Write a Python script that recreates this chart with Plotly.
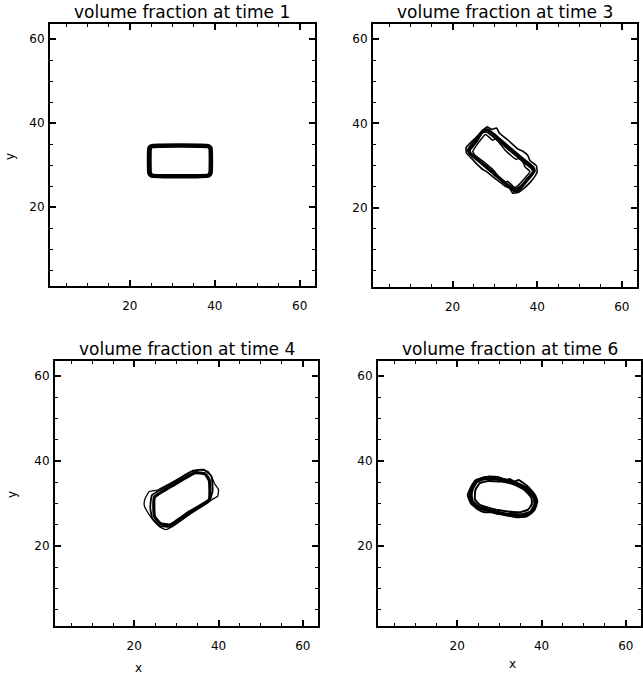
import plotly.graph_objects as go

W, H = 643, 678

# ---------------- data (contour vertices, data units) ----------------
titles = ["volume fraction at time 1", "volume fraction at time 3",
          "volume fraction at time 4", "volume fraction at time 6"]
tick_vals = [20, 40, 60]
tick_text = ["20", "40", "60"]

# time 1: rounded rectangle
t1_main_x = [25.0, 38.6, 39.1, 39.1, 38.6, 25.0, 24.5, 24.5, 25.0]
t1_main_y = [34.6, 34.6, 34.1, 28.0, 27.4, 27.4, 28.0, 34.1, 34.6]
t1_in_x = [25.3, 38.4, 38.7, 38.7, 38.4, 25.3, 25.0, 25.0, 25.3]
t1_in_y = [34.2, 34.2, 33.9, 28.2, 27.8, 27.8, 28.2, 33.9, 34.2]

# time 3: rectangle tilted down to the right
t3_main_x = [27.3, 28.3, 33.0, 36.8, 39.0, 39.3, 37.3, 35.6, 34.7, 30.0, 26.0, 24.0, 23.8, 25.6, 27.3]
t3_main_y = [38.3, 38.5, 34.6, 31.4, 29.6, 28.7, 26.2, 24.2, 24.0, 27.9, 31.3, 33.0, 33.8, 36.2, 38.3]
t3_out_x = [26.8, 28.2, 29.2, 30.4, 31.0, 33.5, 35.5, 36.6, 37.8, 38.3, 39.8, 40.0, 39.3, 38.5,
            37.0, 35.5, 34.2, 33.5, 32.6, 31.3, 29.5, 28.1, 27.0, 25.7, 24.7, 23.3, 23.2, 24.2, 25.5, 26.8]
t3_out_y = [38.0, 39.2, 38.6, 38.9, 37.8, 35.7, 33.9, 33.4, 32.4, 31.2, 30.0, 28.5, 27.2, 26.2,
            24.7, 23.6, 23.5, 24.6, 25.0, 26.0, 27.4, 28.5, 29.2, 30.4, 31.5, 33.0, 34.3, 35.4, 36.6, 38.0]
t3_in_x = [27.8, 29.5, 30.2, 32.5, 35.0, 36.2, 37.2, 38.3, 35.2, 34.5, 33.0, 32.2, 29.7, 27.0, 25.2, 24.8, 27.8]
t3_in_y = [37.4, 36.0, 36.4, 33.6, 31.5, 31.8, 29.6, 28.6, 25.0, 24.9, 26.3, 25.8, 28.9, 31.2, 32.6, 33.4, 37.4]
t3_mid_x = [27.0, 28.0, 32.8, 36.6, 38.7, 39.0, 37.0, 35.3, 34.5, 29.8, 25.8, 24.3, 24.1, 25.8, 27.0]
t3_mid_y = [37.8, 38.0, 34.2, 31.0, 29.3, 28.5, 26.0, 24.6, 24.5, 28.3, 31.6, 33.0, 33.6, 35.8, 37.8]

# time 4: elongated shape tilted up to the right
t4_main_x = [24.8, 29.5, 34.5, 36.8, 37.8, 37.8, 33.0, 28.5, 26.2, 24.8, 24.8]
t4_main_y = [31.5, 34.5, 37.3, 37.0, 35.5, 31.0, 28.0, 25.0, 25.3, 27.0, 31.5]
t4_mid_x = [24.2, 29.0, 34.0, 36.5, 38.3, 38.6, 37.8, 33.2, 28.8, 26.0, 24.3, 23.8, 24.2]
t4_mid_y = [32.0, 34.8, 37.8, 38.0, 36.5, 33.0, 30.6, 27.6, 24.6, 24.8, 26.5, 29.0, 32.0]
t4_out_x = [22.5, 23.5, 25.5, 28.0, 31.0, 33.0, 35.5, 37.5, 38.5, 39.0, 40.0, 39.8, 38.5, 37.0,
            35.5, 33.5, 31.0, 29.0, 27.5, 26.0, 24.8, 23.5, 22.4, 22.5]
t4_out_y = [31.0, 32.8, 33.2, 34.5, 36.2, 37.4, 38.0, 37.6, 36.0, 34.8, 33.3, 31.8, 31.0, 30.0,
            29.5, 27.8, 26.0, 24.6, 23.9, 24.6, 25.8, 27.5, 29.5, 31.0]

# time 6: flattened ellipse, slightly tilted
t6_main_x = [23.5, 24.5, 26.5, 30.0, 33.5, 36.5, 38.3, 38.5, 37.5, 35.5, 31.5, 28.0, 25.0, 23.5, 23.2, 23.5]
t6_main_y = [33.5, 35.2, 36.0, 35.8, 35.0, 33.5, 31.5, 29.8, 28.0, 27.3, 27.5, 28.3, 29.2, 30.5, 32.0, 33.5]
t6_in_x = [24.3, 25.3, 27.0, 30.5, 33.5, 36.0, 37.6, 37.7, 36.8, 35.0, 31.5, 28.0, 25.3, 24.2, 24.3]
t6_in_y = [33.2, 34.8, 35.3, 35.2, 34.5, 33.2, 31.4, 29.9, 28.6, 28.0, 28.2, 28.9, 29.8, 31.0, 33.2]
t6_out_x = [22.5, 23.3, 24.5, 27.5, 30.0, 31.5, 32.5, 33.5, 34.6, 36.8, 38.5, 39.0, 38.3, 36.5,
            34.0, 32.2, 30.8, 29.5, 28.2, 26.5, 25.0, 23.3, 22.5]
t6_out_y = [32.0, 34.0, 35.6, 36.4, 36.2, 35.5, 35.8, 35.2, 35.6, 34.0, 32.0, 30.5, 28.5, 27.0,
            26.8, 27.2, 27.6, 27.6, 28.0, 28.0, 28.6, 30.0, 32.0]

axis_range = [1.2, 63.6]

# ---------------- layout helpers ----------------
def dom_x(a, b):
    return [a / W, b / W]

def dom_y(top, bottom):
    return [1 - bottom / H, 1 - top / H]

panels = [
    dict(x=(50, 315), y=(24, 286)),
    dict(x=(373, 637), y=(24, 287)),
    dict(x=(55, 318), y=(361, 626)),
    dict(x=(378, 641), y=(361, 626)),
]

contours = [
    [(t1_main_x, t1_main_y, 3.5), (t1_in_x, t1_in_y, 2.0)],
    [(t3_main_x, t3_main_y, 3.2), (t3_mid_x, t3_mid_y, 2.0), (t3_out_x, t3_out_y, 1.6), (t3_in_x, t3_in_y, 1.5)],
    [(t4_main_x, t4_main_y, 3.2), (t4_mid_x, t4_mid_y, 1.8), (t4_out_x, t4_out_y, 1.3)],
    [(t6_main_x, t6_main_y, 3.8), (t6_in_x, t6_in_y, 2.0), (t6_out_x, t6_out_y, 2.0)],
]

fig = go.Figure()
layout = dict(
    width=W, height=H,
    margin=dict(l=0, r=0, t=0, b=0),
    paper_bgcolor="white", plot_bgcolor="white",
    showlegend=False,
    font=dict(family="DejaVu Sans", color="black"),
)

annotations = []
for i, p in enumerate(panels):
    n = "" if i == 0 else str(i + 1)
    xa, ya = "x" + n, "y" + n
    for cx, cy, lw in contours[i]:
        fig.add_trace(go.Scatter(x=cx, y=cy, mode="lines", xaxis=xa, yaxis=ya,
                                 line=dict(color="black", width=lw, shape="spline", smoothing=0.4),
                                 hoverinfo="skip"))
    common = dict(range=axis_range, showgrid=False, zeroline=False,
                  showline=True, linecolor="black", linewidth=2, mirror="ticks",
                  ticks="inside", ticklen=6, tickwidth=1.5, tickcolor="black",
                  tickvals=tick_vals, ticktext=tick_text,
                  tickfont=dict(family="DejaVu Sans", size=12, color="black"),
                  minor=dict(dtick=5, tick0=0, ticks="inside", ticklen=3, tickwidth=1.2, tickcolor="black"))
    layout["xaxis" + n] = dict(common, domain=dom_x(*p["x"]), anchor=ya, ticklabelstandoff=8)
    layout["yaxis" + n] = dict(common, domain=dom_y(*p["y"]), anchor=xa, ticklabelstandoff=1)
    annotations.append(dict(text=titles[i], xref="paper", yref="paper",
                            x=(p["x"][0] + p["x"][1]) / 2 / W, y=1 - (p["y"][0] - 12) / H,
                            xanchor="center", yanchor="middle", showarrow=False,
                            font=dict(family="DejaVu Sans", size=17, color="black")))

# axis titles
for (px, py, txt, ang) in [(10, 157, "y", -90), (12, 495, "y", -90), (138, 668, "x", 0), (512, 664, "x", 0)]:
    annotations.append(dict(text=txt, xref="paper", yref="paper", x=px / W, y=1 - py / H,
                            xanchor="center", yanchor="middle", showarrow=False, textangle=ang,
                            font=dict(family="DejaVu Sans", size=12, color="black")))

layout["annotations"] = annotations
fig.update_layout(**layout)
fig.write_html("out.html")
